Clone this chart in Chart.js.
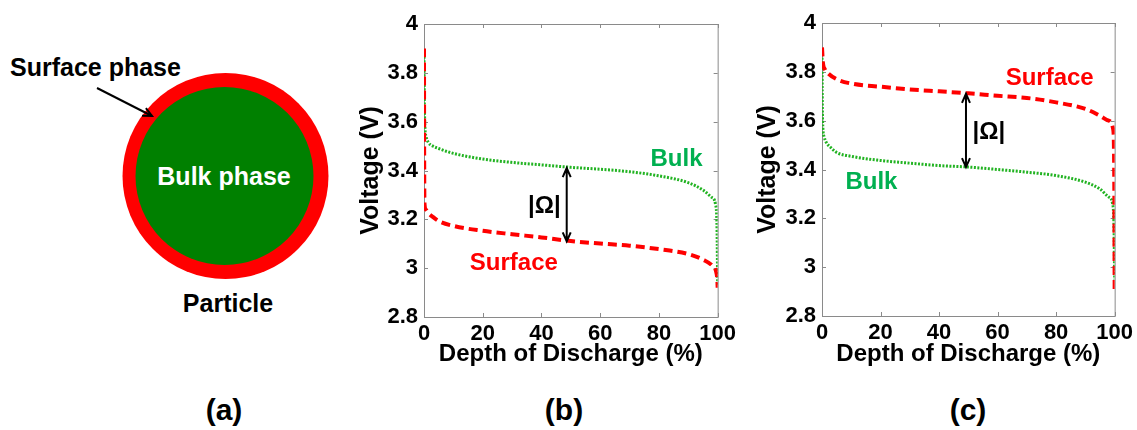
<html>
  <head>
    <script src="https://cdn.jsdelivr.net/npm/chart.js"></script>
    <style>
      body { margin: 0; background: #fff; }
      #page { position: relative; width: 1137px; height: 430px; font-family: "Liberation Sans", Arial, sans-serif; }
      #page svg { position: absolute; left: 0; top: 0; }
      .panel { position: absolute; top: 0; }
      #panel-b { left: 340px; }
      #panel-c { left: 740px; }
    </style>
  </head>
  <body>
    <div id="page">
      <!-- (a) particle sketch and the panel letters -->
      <svg width="1137" height="430" font-family="Liberation Sans, Arial, sans-serif" font-weight="bold">
        <circle cx="225.5" cy="176" r="103" fill="#ff0000"/>
        <circle cx="224.5" cy="176" r="89" fill="#008000"/>
        <text x="10" y="76" font-size="25" fill="#000">Surface phase</text>
        <text x="224" y="185" font-size="25" fill="#fff" text-anchor="middle">Bulk phase</text>
        <text x="228" y="312" font-size="25" fill="#000" text-anchor="middle">Particle</text>
        <line x1="97" y1="88" x2="152" y2="116" stroke="#000" stroke-width="2"/>
        <polyline points="145.9,108.1 152,116 142,115.7" fill="none" stroke="#000" stroke-width="2"/>
        <text x="224" y="420" font-size="30" text-anchor="middle">(a)</text>
        <text x="564" y="420" font-size="30" text-anchor="middle">(b)</text>
        <text x="968" y="420" font-size="30" text-anchor="middle">(c)</text>
      </svg>
      <div class="panel" id="panel-b"><canvas id="graph-b" width="400" height="380"></canvas></div>
      <div class="panel" id="panel-c"><canvas id="graph-c" width="397" height="380"></canvas></div>
    </div>
    <script>
      // depth of discharge (%) and voltage (V)
      const bulkDodB = [0, 0.1, 0.3, 0.7, 1.5, 3, 5, 10, 20, 30, 40, 50, 60, 70, 80, 90, 95, 98, 99.3, 99.8, 100];
      const bulkVoltB = [3.88, 3.70, 3.58, 3.54, 3.515, 3.50, 3.49, 3.47, 3.447, 3.433, 3.423, 3.413, 3.405, 3.395, 3.378, 3.35, 3.32, 3.29, 3.26, 3.15, 2.93];
      const surfDodB = [0, 0.05, 0.2, 0.6, 1.5, 3, 5, 10, 20, 30, 40, 50, 60, 70, 80, 90, 95, 98, 99.5, 99.9, 100];
      const surfVoltB = [3.90, 3.50, 3.26, 3.24, 3.225, 3.21, 3.193, 3.173, 3.153, 3.139, 3.126, 3.111, 3.101, 3.092, 3.078, 3.058, 3.035, 3.012, 2.985, 2.95, 2.92];

      const bulkDodC = [0, 0.1, 0.3, 0.7, 1.5, 3, 5, 10, 20, 30, 40, 50, 60, 70, 80, 90, 95, 98, 99.3, 99.8, 100];
      const bulkVoltC = [3.886, 3.68, 3.57, 3.535, 3.51, 3.49, 3.47, 3.454, 3.437, 3.426, 3.416, 3.41, 3.40, 3.389, 3.375, 3.348, 3.32, 3.287, 3.26, 3.15, 2.95];
      const surfDodC = [0, 0.3, 1, 2, 5, 10, 20, 30, 40, 50, 60, 70, 80, 90, 95, 98, 99.5, 99.9, 100];
      const surfVoltC = [3.90, 3.84, 3.81, 3.795, 3.77, 3.752, 3.739, 3.728, 3.72, 3.712, 3.702, 3.693, 3.675, 3.648, 3.62, 3.60, 3.565, 3.3, 2.91];

      const dodTicks = [0, 20, 40, 60, 80, 100];
      const voltTicks = [2.8, 3, 3.2, 3.4, 3.6, 3.8, 4];

      const FONT = '"Liberation Sans", Arial, sans-serif';
      Chart.defaults.font.family = FONT;

      function toPoints(xs, ys) {
        return xs.map(function (x, i) { return { x: x, y: ys[i] }; });
      }

      // gray box with small inward ticks, then text labels and the |Ω| arrow
      function framePlugin(notes, arrow) {
        return {
          id: 'frame',
          beforeDatasetsDraw(chart) {
            const ctx = chart.ctx, a = chart.chartArea;
            const xs = chart.scales.x, ys = chart.scales.y;
            ctx.save();
            ctx.strokeStyle = '#8a8a8a';
            ctx.lineWidth = 1;
            ctx.strokeRect(a.left + 0.5, a.top + 0.5, a.width, a.height);
            ctx.beginPath();
            xs.ticks.forEach(function (t) {
              const px = Math.round(xs.getPixelForValue(t.value)) + 0.5;
              ctx.moveTo(px, a.bottom); ctx.lineTo(px, a.bottom - 4);
              ctx.moveTo(px, a.top); ctx.lineTo(px, a.top + 4);
            });
            ys.ticks.forEach(function (t) {
              const py = Math.round(ys.getPixelForValue(t.value)) + 0.5;
              ctx.moveTo(a.left, py); ctx.lineTo(a.left + 4, py);
              ctx.moveTo(a.right, py); ctx.lineTo(a.right - 4, py);
            });
            ctx.stroke();
            ctx.restore();
          },
          afterDatasetsDraw(chart) {
            const ctx = chart.ctx;
            const xs = chart.scales.x, ys = chart.scales.y;
            ctx.save();
            ctx.font = 'bold 24px ' + FONT;
            ctx.textAlign = 'center';
            ctx.textBaseline = 'alphabetic';
            notes.forEach(function (n) {
              ctx.fillStyle = n.color;
              ctx.fillText(n.text, xs.getPixelForValue(n.x), ys.getPixelForValue(n.y));
            });
            // double headed arrow
            const ax = xs.getPixelForValue(arrow.x);
            const y1 = ys.getPixelForValue(arrow.from), y2 = ys.getPixelForValue(arrow.to);
            ctx.strokeStyle = '#000';
            ctx.lineWidth = 2;
            ctx.beginPath();
            ctx.moveTo(ax, y1); ctx.lineTo(ax, y2);
            ctx.moveTo(ax - 4, y1 + 9); ctx.lineTo(ax, y1); ctx.lineTo(ax + 4, y1 + 9);
            ctx.moveTo(ax - 4, y2 - 9); ctx.lineTo(ax, y2); ctx.lineTo(ax + 4, y2 - 9);
            ctx.stroke();
            ctx.restore();
          }
        };
      }

      function CreateGraph(id, box, bulk, surface, notes, arrow) {
        const ctx = document.getElementById(id).getContext('2d');
        return new Chart(ctx, {
          type: 'line',
          data: {
            datasets: [{
              label: 'Surface',
              data: surface,
              borderColor: '#ff0000',
              borderWidth: 4,
              borderDash: [9, 5],
              pointRadius: 0,
              cubicInterpolationMode: 'monotone'
            }, {
              label: 'Bulk',
              data: bulk,
              borderColor: '#22b322',
              borderWidth: 3,
              borderDash: [2, 1.5],
              pointRadius: 0,
              cubicInterpolationMode: 'monotone'
            }]
          },
          options: {
            responsive: false,
            animation: false,
            layout: { padding: { top: box.top, right: box.right, left: 0, bottom: 0 } },
            plugins: { legend: { display: false }, tooltip: { enabled: false } },
            scales: {
              x: {
                type: 'linear', min: 0, max: 100,
                afterBuildTicks: function (s) { s.ticks = dodTicks.map(function (v) { return { value: v }; }); },
                afterFit: function (s) { s.height = box.xHeight; },
                grid: { display: false, drawTicks: false },
                border: { display: false },
                ticks: { padding: 4, color: '#000', autoSkip: false, maxRotation: 0, font: { size: 22, weight: 'bold' },
                  callback: function (v) { return String(v); } },
                title: { display: true, text: 'Depth of Discharge (%)', color: '#000', font: { size: 24, weight: 'bold' }, padding: { top: 0, bottom: 11 } }
              },
              y: {
                type: 'linear', min: 2.8, max: 4,
                afterBuildTicks: function (s) { s.ticks = voltTicks.map(function (v) { return { value: v }; }); },
                afterFit: function (s) { s.width = box.left; },
                grid: { display: false, drawTicks: false },
                border: { display: false },
                ticks: { padding: 6, color: '#000', autoSkip: false, font: { size: 22, weight: 'bold' },
                  callback: function (v) { return String(v); } },
                title: { display: true, text: 'Voltage (V)', color: '#000', font: { size: 25, weight: 'bold' }, padding: { top: box.yTitle, bottom: 0 } }
              }
            }
          },
          plugins: [framePlugin(notes, arrow)]
        });
      }

      CreateGraph('graph-b',
        { left: 84, top: 24, right: 22, xHeight: 63, yTitle: 16 },
        toPoints(bulkDodB, bulkVoltB), toPoints(surfDodB, surfVoltB),
        [{ text: 'Bulk', x: 86, y: 3.418, color: '#00b050' },
         { text: 'Surface', x: 30.6, y: 2.993, color: '#ff0000' },
         { text: '|Ω|', x: 41, y: 3.226, color: '#000' }],
        { x: 48.6, from: 3.41, to: 3.11 });

      CreateGraph('graph-c',
        { left: 82, top: 23, right: 20, xHeight: 64, yTitle: 13 },
        toPoints(bulkDodC, bulkVoltC), toPoints(surfDodC, surfVoltC),
        [{ text: 'Surface', x: 77.8, y: 3.746, color: '#ff0000' },
         { text: 'Bulk', x: 16.9, y: 3.32, color: '#00b050' },
         { text: '|Ω|', x: 57, y: 3.525, color: '#000' }],
        { x: 49.2, from: 3.71, to: 3.41 });
    </script>
  </body>
</html>
